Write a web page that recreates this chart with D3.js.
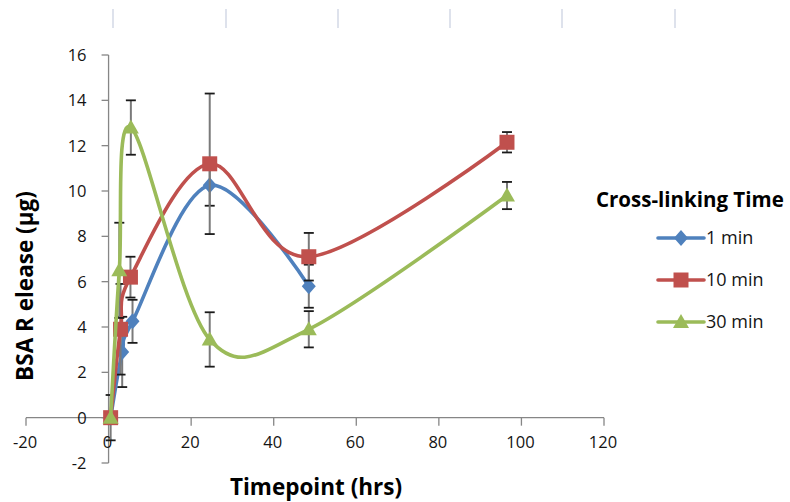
<!DOCTYPE html>
<html>
<head>
<meta charset="utf-8">
<script src="https://cdn.jsdelivr.net/npm/d3@7"></script>
<style>
  body { margin: 0; background: #fff; }
  text { font-family: "Open Sans", Lato, sans-serif; }
</style>
</head>
<body>
<div id="chart"></div>
<script>
// Data
const seriesNames = ['1 min', '10 min', '30 min'];
const timeBlue = [0.5, 3.3, 5.8, 24.5, 48.5];
const valBlue = [0, 2.9, 4.25, 10.25, 5.8];
const errBlue = [1.0, 1.55, 0.95, 0.9, 0.95];
const timeRed = [0.5, 2.9, 5.3, 24.5, 48.5, 96.5];
const valRed = [0, 3.9, 6.2, 11.2, 7.1, 12.15];
const errRed = [0, 2.0, 0.9, 3.1, 1.05, 0.45];
const timeGreen = [0.5, 2.6, 5.4, 24.5, 48.5, 96.5];
const valGreen = [0, 6.5, 12.8, 3.45, 3.9, 9.8];
const errGreen = [0, 2.1, 1.2, 1.2, 0.8, 0.6];
const xTicks = [-20, 0, 20, 40, 60, 80, 100, 120];
const yTicks = [-2, 0, 2, 4, 6, 8, 10, 12, 14, 16];

// Layout
const [width, height] = [790, 502];
const colors = ['#4f81bd', '#c0504d', '#9bbb59'];
const shapes = ['diamond', 'square', 'triangle'];
const axisColor = '#868686';
const topLines = [113, 226, 338, 450, 562, 675];

const toPoints = (t, v, e) => t.map((d, i) => ({ x: d, y: v[i], e: e[i] }));
const series = [
  toPoints(timeBlue, valBlue, errBlue),
  toPoints(timeRed, valRed, errRed),
  toPoints(timeGreen, valGreen, errGreen)
];

const svg = d3.select('#chart').append('svg')
  .attr('width', width)
  .attr('height', height);

const xScale = d3.scaleLinear().domain([-20, 120]).range([26, 604]);
const yScale = d3.scaleLinear().domain([-2, 16]).range([463, 55]);

// bordi in alto (residuo dello screenshot)
svg.selectAll('line.top')
  .data(topLines)
  .enter().append('line')
  .attr('x1', (d) => d).attr('x2', (d) => d)
  .attr('y1', 9).attr('y2', 28)
  .attr('stroke', '#d3d9e6')
  .attr('stroke-width', 1.5);

// Assi
const axes = svg.append('g');
axes.append('line')
  .attr('x1', xScale(0)).attr('x2', xScale(0))
  .attr('y1', yScale(16)).attr('y2', yScale(-2))
  .attr('stroke', axisColor).attr('stroke-width', 1.3);
axes.append('line')
  .attr('x1', xScale(-20)).attr('x2', xScale(120))
  .attr('y1', yScale(0)).attr('y2', yScale(0))
  .attr('stroke', axisColor).attr('stroke-width', 1.3);

axes.selectAll('line.yt')
  .data(yTicks).enter().append('line')
  .attr('x1', xScale(0) - 7).attr('x2', xScale(0))
  .attr('y1', (d) => yScale(d)).attr('y2', (d) => yScale(d))
  .attr('stroke', axisColor).attr('stroke-width', 1.3);

axes.selectAll('line.xt')
  .data(xTicks).enter().append('line')
  .attr('x1', (d) => xScale(d)).attr('x2', (d) => xScale(d))
  .attr('y1', yScale(0)).attr('y2', yScale(0) + 8)
  .attr('stroke', axisColor).attr('stroke-width', 1.3);

axes.selectAll('text.yl')
  .data(yTicks).enter().append('text')
  .attr('x', xScale(0) - 22)
  .attr('y', (d) => yScale(d) + 6)
  .attr('text-anchor', 'end')
  .attr('font-size', 16.5)
  .attr('fill', '#141414')
  .text((d) => d);

axes.selectAll('text.xl')
  .data(xTicks).enter().append('text')
  .attr('x', (d) => xScale(d) - 1)
  .attr('y', yScale(0) + 30)
  .attr('text-anchor', 'middle')
  .attr('font-size', 16.5)
  .attr('fill', '#141414')
  .text((d) => d);

svg.append('text')
  .attr('transform', `translate(33,${286}) rotate(-90)`)
  .attr('text-anchor', 'middle')
  .attr('font-size', 22.5)
  .attr('font-weight', 'bold')
  .attr('fill', '#000')
  .text('BSA R elease (µg)');

svg.append('text')
  .attr('x', 316).attr('y', 495)
  .attr('text-anchor', 'middle')
  .attr('font-size', 22.5)
  .attr('font-weight', 'bold')
  .attr('fill', '#000')
  .text('Timepoint (hrs)');

// Marcatori
const markerPath = (shape) => {
  switch (shape) {
    case 'diamond':
      return 'M0,-8L7,0L0,8L-7,0Z';
    case 'square':
      return 'M-7.5,-7.5H7.5V7.5H-7.5Z';
    default:
      return 'M0,-8L8,6H-8Z';
  }
};

const line = d3.line()
  .x((d) => xScale(d.x))
  .y((d) => yScale(d.y))
  .curve(d3.curveCardinal.tension(0));

const plot = svg.append('g');
series.forEach((data, k) => {
  const g = plot.append('g');
  const bars = g.selectAll('g.err')
    .data(data.filter((d) => d.e > 0))
    .enter().append('g');
  bars.append('line')
    .attr('x1', (d) => xScale(d.x)).attr('x2', (d) => xScale(d.x))
    .attr('y1', (d) => yScale(d.y + d.e)).attr('y2', (d) => yScale(d.y - d.e))
    .attr('stroke', '#7a7a7a').attr('stroke-width', 2);
  [1, -1].forEach((s) => {
    bars.append('line')
      .attr('x1', (d) => xScale(d.x) - 5).attr('x2', (d) => xScale(d.x) + 5)
      .attr('y1', (d) => yScale(d.y + s * d.e)).attr('y2', (d) => yScale(d.y + s * d.e))
      .attr('stroke', '#1a1a1a').attr('stroke-width', 1.8);
  });

  g.append('path')
    .datum(data)
    .attr('d', line)
    .attr('fill', 'none')
    .attr('stroke', colors[k])
    .attr('stroke-width', 3.6)
    .attr('stroke-linejoin', 'round');

  g.selectAll('path.mk')
    .data(data).enter().append('path')
    .attr('d', markerPath(shapes[k]))
    .attr('transform', (d) => `translate(${xScale(d.x)},${yScale(d.y)})`)
    .attr('fill', colors[k]);
});

// Legenda
const legend = svg.append('g');
legend.append('text')
  .attr('x', 596).attr('y', 207)
  .attr('font-size', 20.5)
  .attr('font-weight', 'bold')
  .attr('fill', '#000')
  .text('Cross-linking Time');

const items = legend.selectAll('g.item')
  .data(seriesNames).enter().append('g')
  .attr('transform', (d, i) => `translate(0,${238 + i * 42})`);
items.append('line')
  .attr('x1', 658).attr('x2', 704)
  .attr('stroke', (d, i) => colors[i])
  .attr('stroke-width', 3.6)
  .attr('stroke-linecap', 'round');
items.append('path')
  .attr('d', (d, i) => markerPath(shapes[i]))
  .attr('transform', 'translate(681,0)')
  .attr('fill', (d, i) => colors[i]);
items.append('text')
  .attr('x', 706).attr('y', 6)
  .attr('font-size', 18)
  .attr('fill', '#141414')
  .text((d) => d);
</script>
</body>
</html>
